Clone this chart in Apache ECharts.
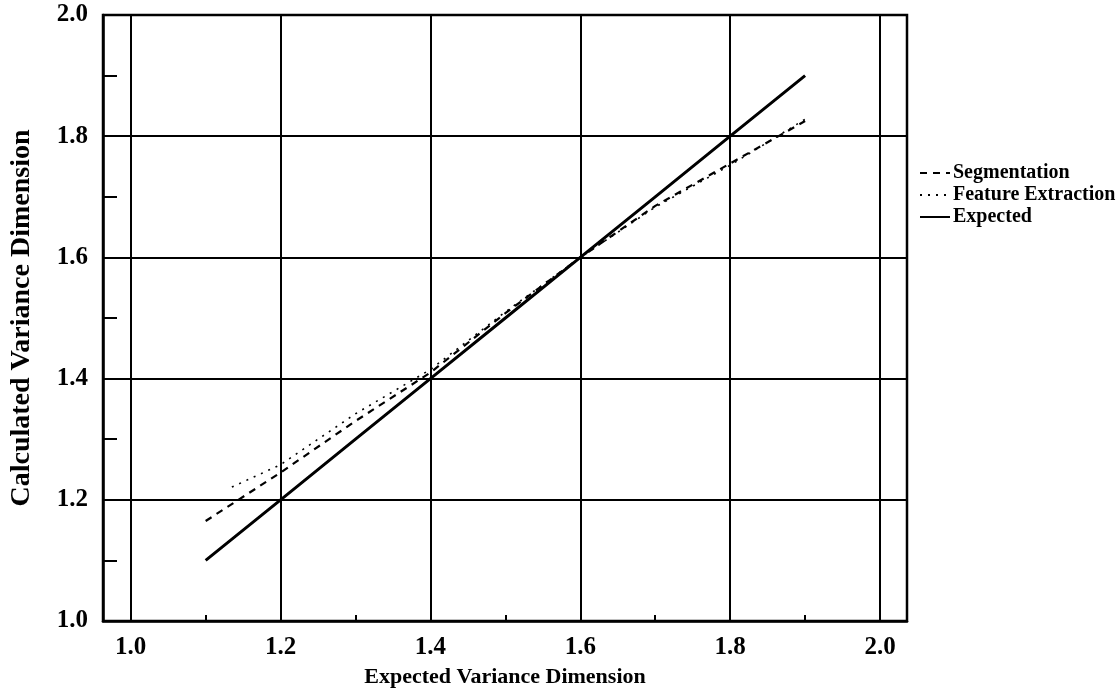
<!DOCTYPE html>
<html>
<head>
<meta charset="utf-8">
<script src="https://cdn.jsdelivr.net/npm/echarts@6/dist/echarts.min.js"></script>
<style>
  html, body { margin: 0; padding: 0; background: #fff; }
  #chart { width: 1119px; height: 689px; }
</style>
</head>
<body>
<div id="chart"></div>
<script>
// Expected vs. calculated variance dimension
const xValues = [1.1, 1.2, 1.3, 1.4, 1.5, 1.6, 1.7, 1.8, 1.9];
const segmentation = [1.165, 1.245, 1.33, 1.41, 1.508, 1.60, 1.685, 1.755, 1.825];
const featureX = [1.135, 1.2, 1.3, 1.4, 1.5, 1.6, 1.7, 1.8, 1.9];
const featureExtraction = [1.221, 1.258, 1.342, 1.415, 1.51, 1.60, 1.683, 1.752, 1.828];
const expected = [1.1, 1.2, 1.3, 1.4, 1.5, 1.6, 1.7, 1.8, 1.9];

const xTickLabels = [1.0, 1.2, 1.4, 1.6, 1.8, 2.0];
const xMinorTicks = [1.1, 1.3, 1.5, 1.7, 1.9];
const yTickLabels = [1.0, 1.2, 1.4, 1.6, 1.8, 2.0];
const yMinorTicks = [1.1, 1.3, 1.5, 1.7, 1.9];

const FONT = '"Liberation Serif", "DejaVu Serif", serif';
const INK = '#000';

const pairs = (xs, ys) => xs.map((x, i) => [x, ys[i]]);

const gridLines = {
  silent: true,
  symbol: 'none',
  label: { show: false },
  lineStyle: { color: INK, type: 'solid', width: 2 },
  emphasis: { disabled: true },
  data: xTickLabels.map(v => ({ xAxis: v }))
    .concat(yTickLabels.map(v => ({ yAxis: v })))
};

const chart = echarts.init(document.getElementById('chart'), null, { renderer: 'canvas' });
chart.setOption({
  animation: false,
  backgroundColor: '#fff',
  grid: {
    left: 103, right: 212, top: 15, bottom: 68,
    outerBoundsMode: 'none',
    containLabel: false,
    show: true, borderColor: INK, borderWidth: 2.5, backgroundColor: 'transparent'
  },
  legend: {
    orient: 'vertical',
    left: 914, top: 158,
    itemWidth: 30, itemHeight: 10, itemGap: 2,
    itemStyle: { opacity: 0 },
    textStyle: { fontFamily: FONT, fontWeight: 'bold', fontSize: 20, color: INK, padding: [0, 0, 0, -2] },
    data: ['Segmentation', 'Feature Extraction', 'Expected']
  },
  xAxis: {
    type: 'value',
    min: 0.963, max: 2.036,
    name: 'Expected Variance Dimension',
    nameLocation: 'middle',
    nameGap: 45,
    nameTextStyle: { fontFamily: FONT, fontWeight: 'bold', fontSize: 22, color: INK },
    axisLine: { show: true, lineStyle: { color: INK, width: 2.5 } },
    axisTick: { show: true, inside: true, length: 6, customValues: xMinorTicks, lineStyle: { color: INK, width: 2 } },
    axisLabel: {
      customValues: xTickLabels,
      margin: 14,
      fontFamily: FONT, fontWeight: 'bold', fontSize: 25, color: INK,
      formatter: v => v.toFixed(1)
    },
    splitLine: { show: false }
  },
  yAxis: {
    type: 'value',
    min: 1.0, max: 2.0,
    name: 'Calculated Variance Dimension',
    nameLocation: 'middle',
    nameGap: 67,
    nameTextStyle: { fontFamily: FONT, fontWeight: 'bold', fontSize: 28, color: INK },
    axisLine: { show: true, lineStyle: { color: INK, width: 2.5 } },
    axisTick: { show: true, inside: true, length: 14, customValues: yMinorTicks, lineStyle: { color: INK, width: 2 } },
    axisLabel: {
      customValues: yTickLabels,
      margin: 15,
      fontFamily: FONT, fontWeight: 'bold', fontSize: 25, color: INK,
      formatter: v => v.toFixed(1)
    },
    splitLine: { show: false }
  },
  series: [
    {
      name: 'Grid',
      type: 'line',
      data: [],
      markLine: gridLines,
      silent: true
    },
    {
      name: 'Segmentation',
      type: 'line',
      data: pairs(xValues, segmentation),
      symbol: 'none',
      itemStyle: { color: INK },
      lineStyle: { color: INK, width: 2.2, type: [7, 6] },
      z: 5
    },
    {
      name: 'Feature Extraction',
      type: 'line',
      data: pairs(featureX, featureExtraction),
      symbol: 'none',
      itemStyle: { color: INK },
      lineStyle: { color: INK, width: 1.6, type: [2, 6] },
      z: 5
    },
    {
      name: 'Expected',
      type: 'line',
      data: pairs(xValues, expected),
      symbol: 'none',
      itemStyle: { color: INK },
      lineStyle: { color: INK, width: 3 },
      z: 6
    }
  ]
});
</script>
</body>
</html>
